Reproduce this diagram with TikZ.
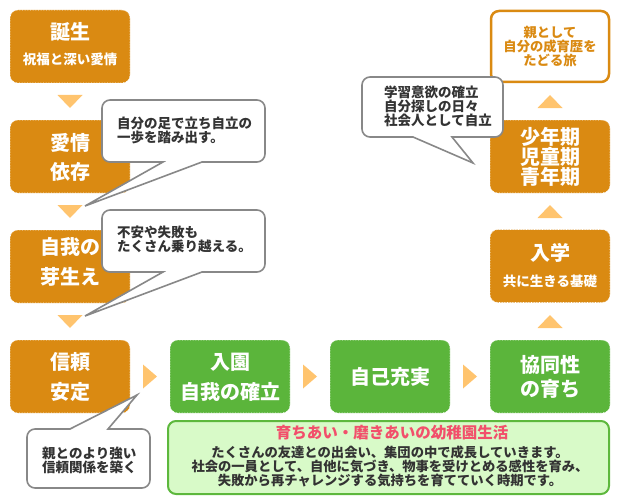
\documentclass[tikz,border=0pt]{standalone}
\usepackage{fontspec}
\setmainfont{Noto Sans CJK JP}
\usetikzlibrary{calc}
\definecolor{org}{HTML}{DA8A12}
\definecolor{grn}{HTML}{5BB53B}
\definecolor{trio}{HTML}{FFC46E}
\definecolor{infofill}{HTML}{D8FAC8}
\definecolor{infoline}{HTML}{5DB83D}
\definecolor{ttlred}{HTML}{F24F6B}
\definecolor{cgray}{HTML}{888888}
\definecolor{txt}{HTML}{333333}
\begin{document}
\begin{tikzpicture}[x=1pt,y=-1pt,
  box/.style={rounded corners=8pt, minimum width=120pt, minimum height=73pt, inner sep=0pt, draw=white, densely dotted, line width=0.6pt},
  obox/.style={box, fill=org},
  gbox/.style={box, fill=grn},
  wbox/.style={rounded corners=8pt, minimum width=118pt, minimum height=71pt, inner sep=0pt, draw=org, line width=2.5pt, fill=white},
  big/.style={text=white, font=\bfseries\fontsize{20}{20}\selectfont, inner sep=0pt, align=center},
  small/.style={text=white, font=\bfseries\fontsize{13.5}{13.5}\selectfont, inner sep=0pt},
  ctext/.style={text=txt, font=\bfseries\fontsize{13.5}{14}\selectfont, align=left, inner sep=0pt, anchor=west},
  callout/.style={draw=cgray, line width=1.6pt, fill=white},
  tri/.style={fill=trio},
]
\useasboundingbox (0,0) rectangle (620,500);

% boxes
\node[obox] (b1) at (70,46.5) {};
\node[obox] (b2) at (70,156.5) {};
\node[obox] (b3) at (70,266.5) {};
\node[obox] (b4) at (70,376.5) {};
\node[gbox] (g1) at (230,376.5) {};
\node[gbox] (g2) at (390,376.5) {};
\node[gbox] (g3) at (550,376.5) {};
\node[obox] (r1) at (550,266) {};
\node[obox] (r2) at (550,156.5) {};
\node[wbox] (r3) at (550,46.5) {};

% box texts
\node[big] (b1a) at (70,32) {誕生};
\node[small] (b1b) at (70,59) {祝福と深い愛情};
\node[big] (b2a) at (70,143) {愛情};
\node[big] (b2b) at (70,172) {依存};
\node[big] (b3a) at (70,247) {自我の};
\node[big] (b3b) at (70,277) {芽生え};
\node[big] (b4a) at (70,362) {信頼};
\node[big] (b4b) at (70,392) {安定};
\node[big] (g1a) at (230,362) {入園};
\node[big] (g1b) at (230,392) {自我の確立};
\node[big] (g2a) at (390,377) {自己充実};
\node[big] (g3a) at (550,365) {協同性};
\node[big] (g3b) at (550,389) {の育ち};
\node[big] (r1a) at (550,253) {入学};
\node[small] (r1b) at (550,281) {共に生きる基礎};
\node[big] (r2a) at (550,157) {少年期\\児童期\\青年期};
\node[text=org, font=\bfseries\fontsize{13.3}{14}\selectfont, align=center, inner sep=0pt] (r3a) at (550,47) {親として\\自分の成育歴を\\たどる旅};

% triangles down
\foreach \yy in {95,205,315} {
  \fill[tri] (57.5,\yy) -- (82.5,\yy) -- (70,\yy+13) -- cycle;
}
% triangles right
\foreach \xx in {143,303,463} {
  \fill[tri] (\xx,364.5) -- (\xx,388.5) -- (\xx+14,376.5) -- cycle;
}
% triangles up
\foreach \yy in {95,205,315} {
  \fill[tri] (537.5,\yy+13) -- (562.5,\yy+13) -- (550,\yy) -- cycle;
}

% callouts
\draw[callout] (85,206) -- (202,162) [rounded corners=8pt] -- (265,162) -- (265,100) -- (102,100) -- (102,162) [sharp corners] -- (163,162) -- cycle;
\node[ctext] (c1) at (117,130.5) {自分の足で立ち自立の\\一歩を踏み出す。};

\draw[callout] (85,316) -- (202,272) [rounded corners=8pt] -- (265,272) -- (265,210) -- (102,210) -- (102,272) [sharp corners] -- (163,272) -- cycle;
\node[ctext] (c2) at (117,239) {不安や失敗も\\たくさん乗り越える。};

\draw[callout] (137,395) -- (108,429) [rounded corners=8pt] -- (150,429) -- (150,488) -- (27,488) -- (27,429) [sharp corners] -- (70,429) -- cycle;
\node[ctext] (c3) at (42,460) {親とのより強い\\信頼関係を築く};

\draw[callout] (473,163) -- (413,137) [rounded corners=8pt] -- (362,137) -- (362,77) -- (503,77) -- (503,137) [sharp corners] -- (452,137) -- cycle;
\node[ctext] (c4) at (384,106.7) {学習意欲の確立\\自分探しの日々\\社会人として自立};

% info box
\node[draw=infoline, fill=infofill, line width=2pt, rounded corners=8pt, minimum width=441pt, minimum height=73pt, inner sep=0pt] (info) at (388.5,457.5) {};
\node[text=ttlred, font=\bfseries\fontsize{15.5}{15.5}\selectfont, inner sep=0pt] (infot) at (392,433) {育ちあい・磨きあいの幼稚園生活};
\node[text=txt, font=\bfseries\fontsize{13.3}{14}\selectfont, align=center, inner sep=0pt] (infob) at (390,466) {たくさんの友達との出会い、集団の中で成長していきます。\\社会の一員として、自他に気づき、物事を受けとめる感性を育み、\\失敗から再チャレンジする気持ちを育てていく時期です。};
\end{tikzpicture}
\end{document}
